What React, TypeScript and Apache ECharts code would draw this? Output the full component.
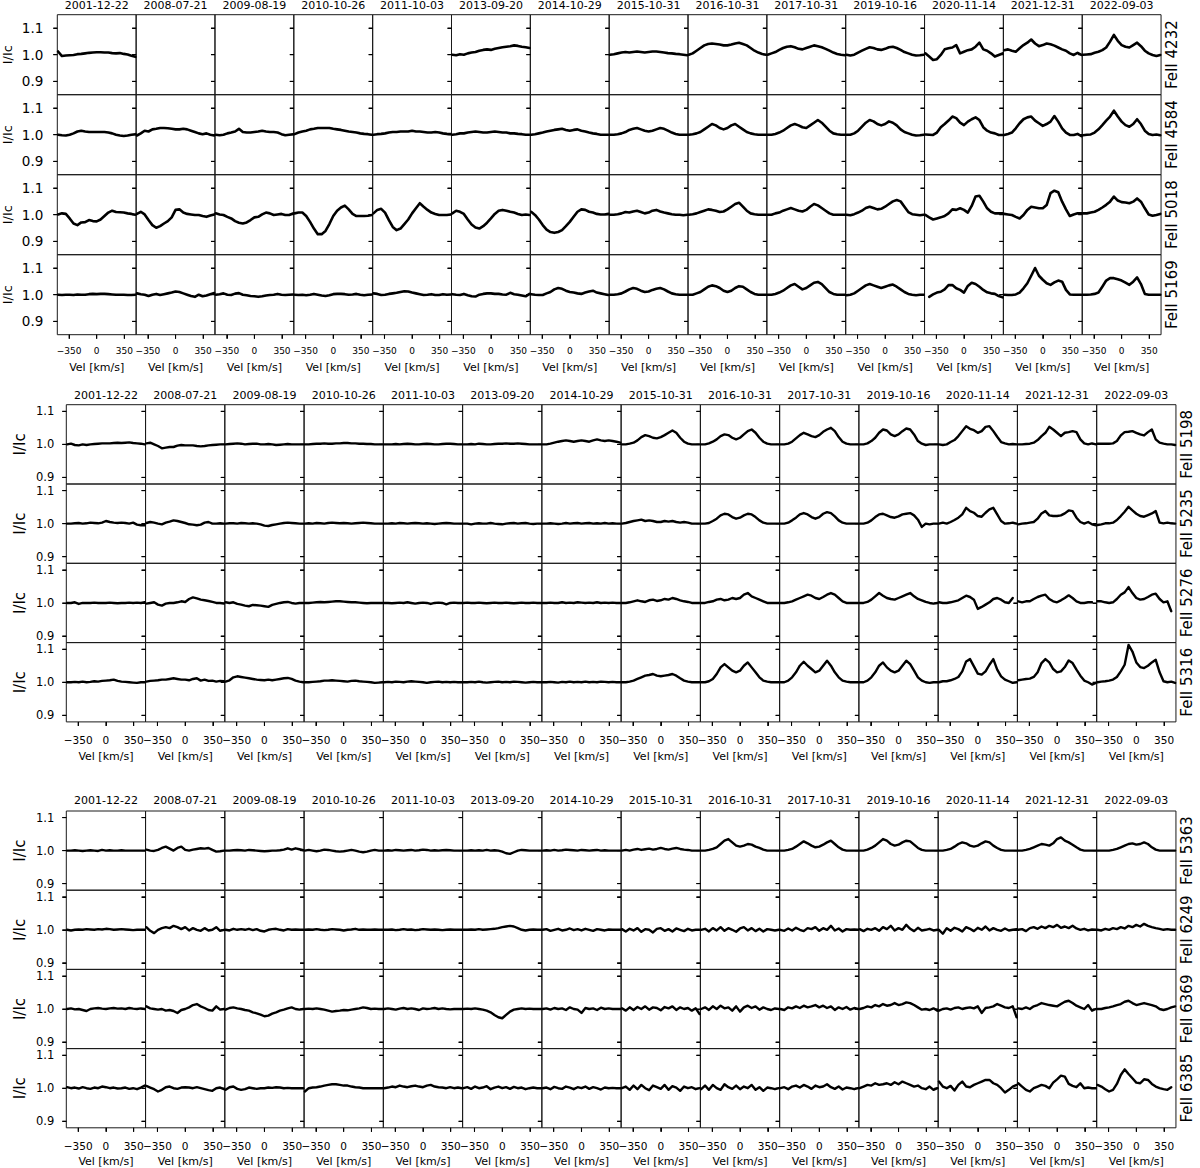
import React, { useEffect, useRef } from "react";
import * as echarts from "echarts";

// Velocity grid (km/s) shared by every panel
const VEL = [-490, -441, -392, -343, -294, -245, -196, -147, -98, -49, 0, 49, 98, 147, 196, 245, 294, 343, 392, 441, 490];

const DATES = ["2001-12-22", "2008-07-21", "2009-08-19", "2010-10-26", "2011-10-03", "2013-09-20", "2014-10-29", "2015-10-31", "2016-10-31", "2017-10-31", "2019-10-16", "2020-11-14", "2021-12-31", "2022-09-03"];

const LINE_NAMES = ["FeII 4232", "FeII 4584", "FeII 5018", "FeII 5169", "FeII 5198", "FeII 5235", "FeII 5276", "FeII 5316", "FeII 5363", "FeII 6249", "FeII 6369", "FeII 6385"];

const X_TICKS = [-350, 0, 350];
const Y_TICKS = [0.9, 1.0, 1.1];

// Profiles: deviation of I/Ic from 1, in thousandths (I/Ic = 1 + d/1000); one list per date
const FE4232 = [
  [12, -5, -3, -2, -1, 2, 3, 5, 7, 8, 9, 9, 8, 8, 6, 5, 6, 3, 1, -4, -8],
  null, null, null, null,
  [0, -2, 2, 0, 5, 8, 10, 15, 18, 20, 18, 22, 25, 28, 30, 32, 35, 33, 30, 28, 25],
  null,
  [0, 2, 5, 8, 10, 8, 10, 12, 10, 8, 10, 12, 12, 10, 8, 6, 5, 3, 2, 0, -2],
  [0, 5, 15, 25, 35, 40, 42, 40, 38, 35, 35, 38, 42, 45, 40, 35, 25, 15, 8, 3, 0],
  [0, 5, 10, 18, 25, 30, 32, 28, 22, 20, 25, 30, 35, 32, 28, 22, 15, 8, 3, 0, -2],
  [0, -3, 0, 8, 15, 22, 28, 25, 20, 18, 22, 28, 30, 25, 18, 10, 5, 0, -3, -2, 0],
  [5, -7, -20, -17, -1, 20, 24, 27, 36, 5, 11, 17, 20, 30, 45, 20, 15, 5, -7, -1, 5],
  [17, 20, 15, 11, 24, 36, 45, 57, 42, 32, 36, 42, 39, 34, 27, 20, 15, 5, -1, 7, -1],
  [0, 1, 2, 7, 11, 17, 27, 49, 74, 52, 36, 30, 27, 36, 45, 32, 15, 5, -1, -5, -1],
];
const FE4584 = [
  [0, -2, -3, 0, 5, 12, 15, 12, 10, 10, 10, 10, 10, 8, 5, 0, -3, -5, -3, 0, 2],
  [-3, 5, 15, 12, 20, 22, 25, 25, 24, 22, 20, 20, 22, 20, 15, 10, 5, 2, 5, 0, -3],
  [0, -2, 0, 5, 8, 12, 22, 10, 8, 8, 10, 12, 15, 12, 10, 10, 8, 2, -2, 0, 2],
  [2, 8, 12, 15, 20, 22, 25, 25, 25, 25, 22, 20, 18, 15, 12, 10, 8, 5, 3, 2, 0],
  [0, 2, 3, 5, 8, 10, 10, 12, 12, 12, 15, 12, 12, 10, 8, 8, 10, 8, 5, 3, 2],
  [0, 2, 5, 5, 8, 10, 12, 10, 8, 8, 10, 12, 10, 8, 8, 5, 5, 3, 2, 0, 0],
  [0, 2, 5, 8, 12, 15, 18, 20, 22, 18, 15, 18, 20, 15, 12, 8, 5, 3, 0, 0, 0],
  [0, 0, 2, 5, 10, 18, 22, 25, 20, 15, 12, 15, 20, 25, 22, 15, 8, 3, 0, 0, 0],
  [0, 2, 5, 10, 20, 30, 40, 35, 25, 20, 25, 35, 40, 30, 20, 10, 5, 2, 0, 0, 0],
  [0, 0, 3, 8, 15, 25, 35, 40, 35, 28, 25, 35, 45, 55, 45, 30, 15, 5, 2, 0, 0],
  [0, 0, 5, 15, 30, 45, 55, 50, 40, 35, 40, 50, 45, 35, 20, 10, 5, 0, -3, -2, 0],
  [1, 0, -1, 8, 28, 40, 53, 68, 62, 45, 36, 49, 58, 65, 55, 28, 15, 8, 5, -1, -1],
  [-1, 3, 8, 24, 43, 58, 65, 68, 53, 43, 33, 40, 49, 70, 49, 24, 8, -1, -1, 3, -5],
  [-2, 0, 1, 8, 20, 36, 53, 68, 90, 68, 49, 36, 30, 40, 58, 40, 15, 3, -1, 1, -2],
];
const FE5018 = [
  [1, 5, 3, -14, -33, -39, -29, -28, -20, -24, -25, -18, -5, 8, 15, 10, 9, 8, 5, 3, 0],
  [3, 11, 1, -20, -39, -49, -43, -33, -24, -10, 18, 20, 8, 3, 1, -1, -1, -5, -8, -3, 1],
  [5, 1, -1, -8, -14, -24, -30, -33, -29, -20, -10, -8, 1, 8, 5, -1, 1, 3, -1, -1, 5],
  [5, 8, 8, -5, -27, -52, -73, -73, -61, -35, -5, 15, 27, 34, 20, 3, -5, -5, -5, -4, -1],
  [5, 18, 22, 8, -20, -46, -58, -52, -35, -18, 5, 24, 43, 30, 18, 8, 3, -1, -1, -1, 1],
  [5, 15, 11, 3, -18, -37, -48, -52, -43, -30, -14, 3, 15, 18, 15, 11, 8, 3, -1, 1, -1],
  [11, -1, -18, -39, -56, -65, -68, -65, -58, -43, -27, -8, 11, 20, 18, 11, 8, 3, 1, 1, 3],
  [0, 0, 2, 5, 10, 8, 12, 15, 10, 5, 8, 15, 18, 12, 8, 5, 2, 0, 0, -2, 0],
  [0, 2, 5, 10, 15, 20, 18, 15, 10, 12, 20, 30, 40, 45, 30, 15, 5, 2, 0, 0, 0],
  [0, 0, 5, 8, 15, 20, 25, 20, 15, 12, 18, 30, 40, 35, 25, 15, 5, 0, 0, 0, 0],
  [0, -2, 2, 8, 15, 25, 30, 25, 20, 22, 30, 40, 50, 55, 50, 30, 10, 2, 0, -2, 0],
  [-1, -10, -18, -14, -10, -5, 5, 20, 18, 24, 18, 8, 33, 68, 71, 49, 24, 11, 5, 5, 5],
  [3, 1, -1, -8, -14, -1, 18, 30, 27, 24, 24, 36, 81, 90, 84, 49, 20, -5, 1, 5, 5],
  [5, 5, 8, 11, 18, 27, 37, 49, 68, 53, 47, 46, 43, 49, 61, 49, 24, 1, -4, -1, 3],
];
const FE5169 = [
  [0, -1, 0, 0, -1, 1, 0, 0, 2, 3, 2, 3, 3, 2, 1, 0, 0, 0, -1, -1, 0],
  [5, 2, 0, -5, 0, 3, -1, 2, 5, 8, 12, 10, 5, 0, -5, -8, 0, -6, -3, 2, 6],
  [0, 2, 5, 0, -1, 4, 6, 0, -2, -5, -6, -8, -6, -3, -1, 0, 3, 0, -1, 0, 1],
  [0, -1, 0, -2, 0, 3, 0, -3, -5, -2, 2, 3, 3, 2, 0, 1, 3, 0, -2, 0, 1],
  [5, 3, -1, 0, 3, 5, 7, 10, 13, 12, 8, 5, 2, -1, 0, 2, -1, -1, 2, 0, 1],
  [2, 0, -1, 3, -2, -6, -7, 0, 3, 5, 5, 3, 3, 1, 0, 7, 2, 0, -3, -6, 3],
  [2, 0, -1, -1, 5, 10, 20, 25, 22, 15, 10, 8, 5, 3, 8, 12, 15, 8, 5, 2, -1],
  [0, 0, 2, 5, 12, 20, 25, 22, 15, 10, 12, 18, 22, 25, 20, 12, 5, 2, 0, 0, 0],
  [0, 0, 5, 10, 20, 30, 35, 32, 25, 15, 10, 15, 25, 32, 30, 20, 10, 3, 0, 0, 0],
  [0, 0, 3, 8, 15, 25, 35, 40, 30, 20, 25, 35, 45, 48, 40, 25, 10, 3, 0, 0, 0],
  [-2, 0, 5, 15, 25, 35, 40, 35, 30, 25, 30, 35, 38, 30, 20, 10, 3, 0, -2, 0, 0],
  [null, -8, 1, 8, 11, 20, 36, 36, 24, 18, 8, 33, 45, 40, 30, 18, 9, 5, 3, -5, -10],
  [0, -1, -1, 1, 8, 24, 43, 71, 100, 71, 56, 43, 37, 46, 53, 49, 18, 1, 0, 0, 0],
  [0, 0, 1, 3, 8, 30, 53, 62, 62, 58, 53, 45, 37, 49, 65, 40, 3, 0, 0, 0, 0],
];
const FE5198 = [
  [0, 2, -2, -3, 0, -2, 0, 1, 2, 3, 3, 3, 4, 5, 4, 5, 6, 4, 3, 2, 0],
  [3, 5, 0, -5, -12, -10, -8, -8, -4, -2, -3, -3, -3, -5, -6, -5, -3, -2, -1, 0, 0],
  [0, 1, 2, 3, 2, 0, 1, 2, 2, 0, 0, 1, 0, -2, -1, 0, 1, 0, 0, 0, 0],
  [0, 0, 1, 2, 2, 3, 2, 2, 3, 3, 4, 4, 3, 3, 2, 2, 1, 1, 0, 0, 0],
  [0, 0, 0, 1, 0, 1, 2, 1, 0, 0, 1, 2, 1, 0, 0, 1, 2, 2, 1, 0, 0],
  [0, 0, 1, 0, 2, 1, 0, 0, 1, 2, 2, 3, 2, 2, 3, 2, 1, 0, 0, 0, 0],
  [0, 0, 2, 5, 8, 10, 12, 10, 8, 10, 12, 10, 8, 12, 15, 12, 10, 12, 10, 8, 5],
  [0, 0, 2, 5, 12, 22, 28, 25, 20, 18, 22, 28, 35, 42, 35, 20, 8, 2, 0, 0, 0],
  [0, 0, 3, 8, 15, 25, 30, 28, 20, 15, 20, 30, 40, 45, 35, 20, 8, 2, 0, 0, 0],
  [0, 0, 2, 8, 18, 28, 35, 30, 25, 22, 28, 38, 45, 50, 40, 22, 8, 2, 0, 0, 0],
  [0, 0, 3, 10, 20, 35, 45, 42, 30, 25, 30, 40, 48, 45, 30, 10, 2, -2, 0, 0, 0],
  [0, -2, 0, 7, 13, 25, 40, 55, 47, 43, 35, 40, 53, 55, 40, 23, 7, 3, 0, 1, 0],
  [0, 0, 1, 2, 5, 13, 25, 35, 53, 45, 35, 25, 35, 37, 40, 37, 15, 3, 0, 3, 0],
  [2, 2, 2, 2, 3, 10, 27, 37, 38, 40, 35, 30, 27, 37, 45, 15, 5, 2, 0, 0, -2],
];
const FE5235 = [
  [0, 0, 1, 2, 0, 1, 3, 2, 1, 3, 8, 5, 3, 2, 3, 2, 0, 3, -3, -5, -5],
  [2, 5, 3, 0, -2, 3, 6, 10, 8, 5, 2, -2, -3, -5, -3, 3, 5, 0, 0, 1, 0],
  [0, 1, 1, 0, 2, 1, 0, 1, 0, -2, -6, -7, -4, -2, 0, 2, 3, 2, 1, 0, 0],
  [0, 1, 0, 2, 1, 0, 2, 3, 2, 1, 2, 1, 0, 1, 2, 3, 2, 1, 0, 0, 0],
  [0, 0, 1, 0, 2, 1, 0, 1, 2, 1, 0, 1, 0, -1, 0, 1, 2, 1, 0, 0, 0],
  [0, 0, -2, 0, 1, 0, 0, 2, 0, -1, -2, 0, 1, 2, 0, 1, 2, 0, -1, 0, 0],
  [0, 0, 1, 0, -1, 0, 2, 0, 1, 2, 0, 1, 2, 0, 1, 0, 2, 0, 1, 0, 0],
  [0, 2, 5, 8, 10, 12, 8, 10, 8, 5, 5, 8, 6, 8, 5, 3, 5, 3, 0, 0, 0],
  [0, 0, 2, 8, 15, 25, 30, 28, 20, 15, 18, 25, 30, 28, 20, 10, 3, 0, 0, 0, 0],
  [0, 0, 3, 10, 18, 28, 32, 28, 20, 15, 20, 30, 35, 32, 22, 10, 3, 0, 0, 0, 0],
  [0, 0, 3, 10, 20, 28, 30, 25, 20, 18, 22, 28, 30, 32, 25, 12, -10, 0, -2, 0, 0],
  [0, 3, 0, 5, 11, 18, 28, 48, 38, 33, 23, 21, 33, 43, 48, 28, 8, 0, 1, 3, 0],
  [-2, 0, 1, 3, 5, 15, 31, 38, 25, 23, 23, 25, 31, 40, 38, 18, 5, 0, 5, -2, -5],
  [-4, -2, 1, 1, 3, 11, 23, 36, 51, 40, 30, 23, 21, 26, 31, 38, 3, 1, 3, 1, 0],
];
const FE5276 = [
  [0, 0, 2, -3, 0, 0, 0, 1, 0, 0, 0, 1, 0, -1, 0, 0, 1, 0, 1, 0, 2],
  [-2, 0, 2, -5, -8, -2, 0, 0, 2, 5, 3, 12, 17, 14, 10, 8, 6, 3, 0, 0, -2],
  [2, 0, 2, -3, -5, -8, -10, -6, -7, -8, -10, -12, -6, -3, 0, 2, 3, 0, -2, 0, 0],
  [0, 0, 1, 2, 3, 2, 3, 4, 5, 5, 4, 3, 2, 2, 1, 0, -1, 0, 0, 0, 0],
  [0, 0, -1, 0, 1, 0, 2, 0, -2, 0, 1, 0, -3, 0, 1, 0, -4, 0, 1, 0, 0],
  [0, 1, 0, 0, 1, 0, -1, 0, 1, 0, 0, 1, 0, -1, 0, 1, 0, 0, 1, 0, 0],
  [0, 0, 1, 0, 0, 2, 0, 1, 0, 2, 1, 0, 1, 0, 2, 0, 1, 0, 1, 0, 0],
  [0, 0, 2, 5, 8, 5, 3, 8, 10, 6, 8, 12, 10, 15, 12, 8, 5, 3, 0, 0, 0],
  [0, 0, 3, 5, 10, 12, 8, 10, 15, 12, 15, 25, 30, 20, 15, 10, 5, 0, 0, 0, 0],
  [0, 0, 2, 5, 10, 15, 20, 25, 22, 15, 12, 18, 25, 30, 25, 15, 5, 0, 0, 0, 0],
  [0, 0, 3, 10, 20, 30, 22, 15, 12, 10, 15, 20, 25, 30, 20, 12, 8, 3, 0, -2, 0],
  [2, 0, 0, 2, 5, 8, 15, 22, 18, 10, -18, -12, -5, 2, 12, 15, 10, 2, 0, 15, null],
  [5, 2, 5, 5, 12, 18, 22, 25, 12, 5, 2, 8, 15, 23, 15, 5, 0, 0, 2, 2, null],
  [5, 5, 2, 0, 2, 12, 25, 32, 48, 30, 15, 10, 12, 18, 25, 28, 12, 2, 5, -25, null],
];
const FE5316 = [
  [0, 0, 1, 0, 2, 0, 1, 3, 2, 4, 5, 6, 8, 4, 2, 1, 0, -1, -2, 0, 0],
  [2, 4, 5, 6, 8, 8, 10, 12, 10, 8, 8, 6, 10, 12, 5, 8, 4, 5, 2, 4, 3],
  [2, 6, 15, 18, 16, 14, 12, 10, 8, 7, 6, 8, 6, 8, 10, 12, 13, 10, 5, 2, 0],
  [0, 0, 1, 2, 3, 5, 5, 6, 5, 4, 3, 2, 4, 5, 3, 2, 1, 0, -2, -1, 0],
  [0, 1, 0, 2, 1, 0, 2, 3, 2, 1, 0, -2, 0, 1, 2, 0, 1, 0, 1, 0, 0],
  [0, 0, 1, 0, 2, 0, -1, 0, 1, 2, 0, 1, 0, 2, 1, 0, -1, 0, 1, 0, 0],
  [0, 0, 1, 0, -1, 1, 0, 2, 0, 1, 0, 2, 0, 1, 0, 2, 1, 0, 1, 0, 0],
  [0, 0, 2, 5, 10, 15, 20, 22, 25, 20, 18, 20, 22, 25, 20, 12, 5, 2, 0, 0, 0],
  [0, 0, 3, 10, 25, 45, 55, 45, 35, 30, 35, 50, 60, 45, 30, 15, 5, 2, 0, 0, 0],
  [0, 0, 5, 15, 30, 50, 62, 50, 40, 30, 35, 50, 65, 50, 30, 15, 5, 2, 0, 0, 0],
  [0, 0, 5, 15, 30, 50, 60, 45, 35, 30, 35, 50, 65, 55, 35, 15, 5, 0, -2, 0, 0],
  [0, 3, 3, 6, 10, 16, 33, 63, 70, 48, 26, 23, 33, 53, 70, 38, 18, 8, 3, -2, 0],
  [6, 8, 10, 11, 16, 30, 58, 70, 60, 40, 30, 33, 46, 66, 58, 38, 20, 5, 0, -7, -2],
  [0, 2, 3, 5, 8, 16, 33, 53, 113, 93, 60, 46, 43, 50, 60, 68, 30, 3, 0, 2, -2],
];
const FE5363 = [
  [0, 0, 1, 0, -1, 0, 1, 0, -1, 2, 0, 1, 0, 0, 1, 0, 0, 0, 0, 0, 0],
  [3, 0, -1, 2, 8, 12, 6, 0, 8, 12, 2, 0, 3, 5, 7, 6, 8, 2, -3, -2, 0],
  [0, 0, 1, 2, 1, 0, 2, 1, 0, -1, -2, -1, 0, 0, 1, 3, 7, 3, 7, 4, 1],
  [0, 2, 0, -2, 0, 3, 2, 0, -2, -3, -2, 0, 2, 0, -3, -5, -3, 0, 2, 0, 0],
  [0, 1, 0, 2, 1, 0, 1, 2, 0, 1, 3, 2, 0, 1, 0, 1, 2, 1, 0, 0, 0],
  [0, 0, 1, 0, 1, 0, 2, 0, 1, 0, -3, -8, -10, -5, 0, 2, 1, 0, 0, 0, 0],
  [0, 1, 0, 2, 0, 1, 3, 2, 1, 0, 2, 1, 0, 1, 2, 0, 1, 0, 0, 0, 0],
  [0, 2, 0, 3, 5, 2, 4, 6, 3, 5, 8, 5, 3, 6, 8, 5, 3, 2, 0, 0, 0],
  [0, 0, 2, 5, 10, 20, 30, 35, 25, 15, 12, 15, 20, 18, 12, 8, 3, 0, 0, 0, 0],
  [0, 0, 2, 5, 12, 20, 28, 22, 15, 10, 12, 18, 25, 30, 20, 10, 3, 0, 0, 0, 0],
  [0, 0, 3, 8, 15, 25, 35, 30, 20, 15, 18, 25, 30, 28, 18, 8, 2, 0, 0, 0, 0],
  [0, 0, 2, 5, 12, 20, 25, 22, 15, 12, 15, 22, 28, 25, 15, 8, 2, 0, 0, 0, 0],
  [0, 0, 2, 5, 10, 15, 20, 18, 15, 22, 35, 40, 30, 25, 18, 10, 3, 0, 0, 0, 0],
  [0, 0, 0, 0, 2, 5, 10, 15, 20, 22, 18, 20, 25, 20, 10, 3, 0, 0, 0, 0, 0],
];
const FE6249 = [
  [0, -2, 0, 1, 0, 2, 1, 0, 2, 1, 3, 2, 0, 1, 2, 1, 0, -1, 0, 0, 0],
  [8, -3, -10, 0, 5, 8, 5, 12, 8, 2, 8, -2, 5, 0, -3, 5, -2, 0, 8, -3, 0],
  [0, -2, 3, 0, 2, 0, 3, -1, 2, -3, -5, 0, 2, 3, 0, -2, 2, 0, 1, 0, 0],
  [0, 1, 0, 2, 0, -1, 0, 2, 1, 0, -2, 0, 1, 3, 0, 1, 0, 0, 1, 0, 0],
  [0, 0, 1, -1, 0, 2, 0, 1, -1, 0, 2, 1, 0, 1, 0, -1, 0, 1, 0, 0, 0],
  [0, 0, 1, 0, 2, 0, 1, 2, 3, 5, 8, 10, 12, 10, 5, 0, -2, 0, 1, 0, 0],
  [0, 2, -3, 0, 3, -2, 0, 4, -1, 2, -2, 3, 0, -3, 2, 0, -2, 1, 0, 0, 0],
  [2, -5, 3, -2, 5, -6, 2, 0, -8, 3, 5, -3, 2, -5, 4, 0, -4, 3, -2, 0, 0],
  [0, 3, -5, 5, -2, 8, -3, 5, 0, -6, 4, 8, -2, 5, -4, 3, -5, 2, 0, -2, 0],
  [0, -3, 4, -2, 6, 0, -4, 5, 2, 8, -3, 5, 0, 12, -2, 4, -5, 2, 0, 1, 0],
  [2, -4, 3, 0, 5, -3, 8, 2, 12, -2, 5, 0, 15, 3, -4, 6, -2, 0, 3, -2, 0],
  [0, -12, 5, -3, 6, 2, -5, 8, 3, -4, 6, 0, 10, -2, 5, 0, -3, 4, -2, 0, 2],
  [0, 2, -4, 5, 8, 3, 10, 5, 12, 8, 15, 6, 10, 5, 12, 4, 0, 3, -2, 1, 0],
  [0, -2, 3, 0, 5, 2, 8, 4, 12, 8, 15, 10, 18, 12, 8, 5, 3, 0, 2, 0, 0],
];
const FE6369 = [
  [0, 2, -1, 0, -3, -6, 0, 2, 3, 1, 0, 2, 3, 1, 2, 0, 3, 1, 0, 2, 0],
  [8, 2, 0, -2, 0, -5, -3, -6, -12, -3, 0, 5, 12, 15, 8, 3, -3, -5, 8, -2, 0],
  [-2, 3, 5, 2, 0, -3, -5, -10, -13, -17, -22, -20, -14, -10, -5, -2, 2, 5, 0, -2, 0],
  [0, 1, 0, 2, 0, -2, -5, -8, -6, -5, -3, -4, -2, 0, 2, 5, 3, 0, 1, 0, 0],
  [0, 2, 0, -2, 1, 3, 0, 2, 0, -3, 2, 0, 1, 3, 0, 2, 0, -1, 0, 0, 0],
  [0, 1, 0, 2, 0, -2, -5, -10, -18, -25, -28, -18, -8, -2, 0, 2, 0, 1, 0, 0, 0],
  [0, 2, -2, 3, 0, 2, -3, 5, 0, -2, -12, 3, 0, 2, -3, 4, 0, 2, 0, 0, 0],
  [2, -5, 5, -3, 6, 0, 8, -2, 5, 3, -4, 6, 2, 8, -3, 5, 0, 3, -5, 2, -15],
  [0, 5, -3, 8, 0, 10, 2, 5, -5, 8, -8, 5, 10, 3, 8, -2, 5, 0, -3, 2, 0],
  [0, -3, 5, 2, 8, 3, 10, 5, 8, 12, 5, 10, 3, 8, -3, 5, 0, 6, -2, 3, 0],
  [0, 3, 8, 5, 12, 8, 15, 10, 12, 18, 12, 15, 20, 18, 12, 5, -2, 0, -3, 2, -5],
  [-5, 0, 2, -2, 3, 5, 0, 3, 5, 2, 8, -12, 3, 5, 8, 15, 10, 5, 3, 8, -25],
  [2, 0, 5, 0, 8, 12, 18, 15, 12, 10, 8, 15, 22, 25, 18, 10, 5, 0, 12, -5, 0],
  [0, 0, 3, 5, 8, 12, 15, 22, 25, 18, 12, 15, 18, 15, 12, 8, 0, -3, 0, 5, 8],
];
const FE6385 = [
  [3, 0, 2, -1, 3, 0, -2, 2, 0, 5, 3, 0, 2, -1, 0, 2, -2, 0, -3, 2, 8],
  [7, 2, -3, -10, -5, 3, 5, 0, -2, 2, 3, 2, 0, 3, 0, -3, -6, -8, 0, 2, -3],
  [-5, 3, 5, -2, -5, -3, 2, 0, -2, 0, 0, 2, 1, 3, 2, 0, 1, 0, 0, 0, 0],
  [-10, 0, 2, 3, 5, 8, 10, 12, 12, 10, 8, 8, 5, 3, 2, 0, 0, 0, 0, 0, 0],
  [0, 2, 5, 3, 8, 5, 3, 6, 8, 5, 3, 8, 10, 5, 3, 2, 0, 3, 0, 2, 0],
  [0, 3, -2, 5, 0, 2, 6, -3, 2, 5, 0, 3, -2, 4, 0, 2, -3, 0, 2, 0, 0],
  [0, 2, -3, 4, 0, -2, 5, 2, -3, 3, 0, 5, -2, 3, 0, -4, 2, 0, 1, 0, 0],
  [0, 5, -5, 8, -3, 10, 0, -6, 8, 3, -2, 10, -5, 6, 2, -8, 5, 0, 3, -3, 0],
  [-3, 8, -5, 10, 0, -5, 12, 3, -2, 8, -3, 5, 0, 10, -5, 3, -8, 2, 0, -3, 0],
  [0, 3, -3, 5, 8, 2, 10, 5, -2, 8, 3, 5, 12, 3, -2, 5, -4, 2, 0, -3, 0],
  [0, 5, 10, 8, 15, 10, 12, 15, 10, 18, 12, 20, 15, 10, 5, 8, 0, -3, 5, -5, 0],
  [20, 5, 0, 7, -7, 10, 20, 5, 3, 10, 15, 20, 25, 25, 15, 10, 0, -13, -5, 5, 10],
  [15, 5, -5, -10, 0, 5, 10, 7, 0, 17, 27, 38, 35, 13, 7, 3, 15, 0, 2, 0, 0],
  [10, 5, -3, -10, -5, 13, 40, 57, 43, 30, 17, 15, 27, 25, 13, 5, 0, -3, -5, 3, null],
];

const PROFILES = [FE4232, FE4584, FE5018, FE5169, FE5198, FE5235, FE5276, FE5316, FE5363, FE6249, FE6369, FE6385];

const FONT = "'DejaVu Sans', 'Liberation Sans', sans-serif";

// layout of the three stacked figure blocks
const BLOCKS = [
  { left: 57.3, colW: 78.84, top: 14.7, rowH: 80, ymin: 0.85, ymax: 1.15, titleY: 5, ylabX: 7, ylabFont: 13, rightX: 1172, yTickFont: 13.5, yTickMargin: 14, xTickFont: 9, xTickMargin: 12, nameGap: 27, lw: 2.6 },
  { left: 66.3, colW: 79.26, top: 404.7, rowH: 79.3, ymin: 0.88, ymax: 1.12, titleY: 395, ylabX: 20, ylabFont: 15, rightX: 1187, yTickFont: 11.5, yTickMargin: 12, xTickFont: 10.5, xTickMargin: 13, nameGap: 29, lw: 2.4 },
  { left: 66.3, colW: 79.26, top: 811, rowH: 79.2, ymin: 0.88, ymax: 1.12, titleY: 800, ylabX: 20, ylabFont: 15, rightX: 1187, yTickFont: 11.5, yTickMargin: 12, xTickFont: 10.5, xTickMargin: 13, nameGap: 28.5, lw: 2.4 },
];

const TICK_LEN = 4;

function fmtX(v: number) {
  return v < 0 ? "\u2212" + Math.abs(v) : String(v);
}

function textStyle(text: string, size: number) {
  return { text, fill: "#000", font: `${size}px ${FONT}`, textAlign: "center", textVerticalAlign: "middle", align: "center", verticalAlign: "middle" };
}

function buildOption() {
  const grid: any[] = [];
  const xAxis: any[] = [];
  const yAxis: any[] = [];
  const series: any[] = [];
  const graphic: any[] = [];
  const panels: { axis: number; bottom: boolean; ymin: number }[] = [];

  BLOCKS.forEach((b, bi) => {
    DATES.forEach((d, c) => {
      graphic.push({ type: "text", x: b.left + (c + 0.5) * b.colW, y: b.titleY, style: textStyle(d, 11) });
    });
    for (let r = 0; r < 4; r++) {
      const li = bi * 4 + r;
      const cy = b.top + (r + 0.5) * b.rowH;
      graphic.push({ type: "text", x: b.ylabX, y: cy, rotation: Math.PI / 2, style: textStyle("I/Ic", b.ylabFont) });
      graphic.push({ type: "text", x: b.rightX, y: cy, rotation: Math.PI / 2, style: textStyle(LINE_NAMES[li], 15) });
      const bottom = r === 3;
      for (let c = 0; c < DATES.length; c++) {
        const gi = grid.length;
        panels.push({ axis: gi, bottom, ymin: b.ymin });
        grid.push({
          left: b.left + c * b.colW,
          top: b.top + r * b.rowH,
          width: b.colW,
          height: b.rowH,
          show: true,
          borderColor: "#1a1a1a",
          borderWidth: 1,
          backgroundColor: "transparent",
          containLabel: false,
          outerBoundsMode: "none",
        });
        xAxis.push({
          type: "value",
          gridIndex: gi,
          min: -500,
          max: 500,
          axisLine: { show: false, onZero: false },
          splitLine: { show: false },
          axisTick: { show: bottom, customValues: X_TICKS, length: TICK_LEN, lineStyle: { color: "#000", width: 1 } },
          axisLabel: { show: bottom, customValues: X_TICKS, formatter: fmtX, fontSize: b.xTickFont, fontFamily: FONT, color: "#000", margin: b.xTickMargin },
          name: bottom ? "Vel [km/s]" : "",
          nameLocation: "middle",
          nameGap: b.nameGap,
          nameTextStyle: { fontSize: 11, fontFamily: FONT, color: "#000" },
        });
        yAxis.push({
          type: "value",
          gridIndex: gi,
          min: b.ymin,
          max: b.ymax,
          axisLine: { show: false, onZero: false },
          splitLine: { show: false },
          axisTick: { show: true, customValues: Y_TICKS, length: TICK_LEN, lineStyle: { color: "#000", width: 1 } },
          axisLabel: { show: c === 0, customValues: Y_TICKS, formatter: (v: number) => v.toFixed(1), fontSize: b.yTickFont, fontFamily: FONT, color: "#000", margin: b.yTickMargin },
        });
        const prof = PROFILES[li][c];
        if (prof) {
          series.push({
            type: "line",
            xAxisIndex: gi,
            yAxisIndex: gi,
            data: VEL.map((v, k) => [v, prof[k] == null ? "-" : 1 + (prof[k] as number) / 1000]),
            showSymbol: false,
            symbol: "none",
            connectNulls: false,
            silent: true,
            clip: true,
            lineStyle: { color: "#000", width: b.lw, join: "round", cap: "round" },
          });
        }
      }
    }
  });

  return { option: { animation: false, backgroundColor: "#ffffff", grid, xAxis, yAxis, series, graphic }, panels };
}

// tick marks placed through each panel's own axis scales
function buildTicks(chart: any, panels: { axis: number; bottom: boolean; ymin: number }[]) {
  const ticks: any[] = [];
  const tickStyle = { stroke: "#000", lineWidth: 1.1 };
  panels.forEach((p) => {
    const xLeft = Number(chart.convertToPixel({ xAxisIndex: p.axis }, -500));
    if (!isFinite(xLeft)) return;
    Y_TICKS.forEach((v) => {
      const y = Number(chart.convertToPixel({ yAxisIndex: p.axis }, v));
      if (isFinite(y)) ticks.push({ type: "line", silent: true, z: 10, shape: { x1: xLeft - TICK_LEN, y1: y, x2: xLeft, y2: y }, style: tickStyle });
    });
    if (p.bottom) {
      const yBot = Number(chart.convertToPixel({ yAxisIndex: p.axis }, p.ymin));
      X_TICKS.forEach((v) => {
        const x = Number(chart.convertToPixel({ xAxisIndex: p.axis }, v));
        if (isFinite(x) && isFinite(yBot)) ticks.push({ type: "line", silent: true, z: 10, shape: { x1: x, y1: yBot, x2: x, y2: yBot + TICK_LEN }, style: tickStyle });
      });
    }
  });
  return ticks;
}

export default function App() {
  const ref = useRef<HTMLDivElement>(null);
  useEffect(() => {
    document.body.style.margin = "0";
    if (!ref.current) return;
    const chart = echarts.init(ref.current, undefined, { renderer: "svg" });
    const { option, panels } = buildOption();
    chart.setOption(option as any);
    const ticks = buildTicks(chart, panels);
    chart.setOption({ graphic: [...option.graphic, ...ticks] } as any);
    return () => chart.dispose();
  }, []);
  return <div ref={ref} style={{ width: 1200, height: 1168 }} />;
}
